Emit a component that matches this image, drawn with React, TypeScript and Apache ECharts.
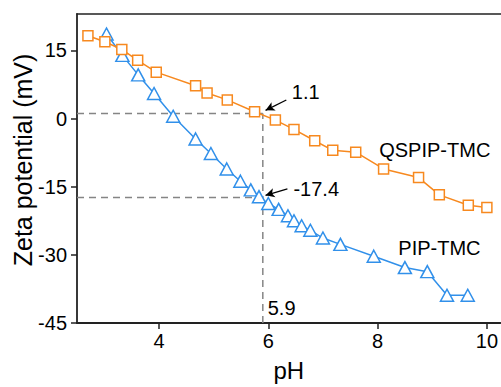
import React, { useEffect, useRef } from "react";
import * as echarts from "echarts";

const qspipPH = [2.7, 3.01, 3.32, 3.61, 3.95, 4.67, 4.88, 5.25, 5.75, 6.13, 6.47, 6.85, 7.18, 7.6, 8.11, 8.75, 9.13, 9.66, 10.0];
const qspipZeta = [18.2, 16.9, 15.2, 12.8, 10.2, 7.2, 5.6, 4.1, 1.5, -0.35, -2.4, -4.9, -7.0, -7.4, -11.1, -13.0, -16.8, -19.1, -19.6];

const pipPH = [3.04, 3.33, 3.62, 3.91, 4.26, 4.67, 4.95, 5.24, 5.49, 5.68, 5.83, 6.0, 6.19, 6.36, 6.47, 6.61, 6.77, 7.0, 7.32, 7.93, 8.5, 8.91, 9.27, 9.65];
const pipZeta = [18.6, 13.9, 9.6, 5.5, 0.5, -4.5, -7.7, -11.1, -13.8, -15.7, -17.2, -18.7, -20.0, -21.4, -22.5, -23.6, -24.6, -26.3, -27.7, -30.3, -32.8, -33.7, -38.9, -38.9];

const xTicks = [4, 6, 8, 10];
const yTicks = [-45, -30, -15, 0, 15];

const crossPH = 5.9;
const crossQSPIP = 1.1;
const crossPIP = -17.4;

const annoTexts = ["1.1", "-17.4", "QSPIP-TMC", "PIP-TMC", "5.9"];
const annoX = [6.43, 6.46, 8.03, 8.38, 5.99];
const annoY = [5.9, -15.5, -7.0, -28.6, -41.6];

const arrowFrom = [[6.33, 4.07], [6.35, -15.5]];
const arrowTo = [[5.95, 1.8], [5.95, -16.9]];

const X_MIN = 2.5;
const X_MAX = 10.25;
const Y_MIN = -45;
const Y_MAX = 23;

const FONT = "'Liberation Sans', Arial, sans-serif";
const ORANGE = "#f7891f";
const BLUE = "#3190ea";
const DASH = "#858585";

export default function App() {
  const ref = useRef<HTMLDivElement>(null);
  useEffect(() => {
    if (!ref.current) return;
    const chart = echarts.init(ref.current, undefined, { renderer: "svg" });
    const dashStyle = { color: DASH, width: 1.5, type: [7, 5] as any };
    chart.setOption({
      animation: false,
      backgroundColor: "#fff",
      grid: { left: 77, right: 0, top: 14, bottom: 55 },
      xAxis: [
        {
          type: "value",
          min: X_MIN,
          max: X_MAX,
          name: "pH",
          nameLocation: "middle",
          nameGap: 35,
          nameTextStyle: { fontSize: 24, color: "#000", fontFamily: FONT },
          axisLine: { show: true, onZero: false, lineStyle: { color: "#222", width: 1.8 } },
          axisTick: { show: true, length: 6, customValues: xTicks, lineStyle: { color: "#222", width: 1.5 } },
          axisLabel: { customValues: xTicks, fontSize: 20, color: "#000", fontFamily: FONT, margin: 8 },
          splitLine: { show: false },
        },
        {
          type: "value",
          position: "top",
          min: X_MIN,
          max: X_MAX,
          axisLine: { show: true, onZero: false, lineStyle: { color: "#222", width: 1.5 } },
          axisTick: { show: false },
          axisLabel: { show: false },
          splitLine: { show: false },
        },
      ],
      yAxis: {
        type: "value",
        min: Y_MIN,
        max: Y_MAX,
        axisLine: { show: true, onZero: false, lineStyle: { color: "#222", width: 1.8 } },
        axisTick: { show: true, length: 6, customValues: yTicks, lineStyle: { color: "#222", width: 1.5 } },
        axisLabel: { customValues: yTicks, fontSize: 20, color: "#000", fontFamily: FONT, margin: 10 },
        splitLine: { show: false },
      },
      graphic: [
        {
          type: "text",
          x: 23,
          y: 160,
          rotation: Math.PI / 2,
          style: {
            text: "Zeta potential (mV)",
            fontSize: 25,
            fontFamily: FONT,
            fill: "#000",
            align: "center",
            verticalAlign: "middle",
          },
        },
      ],
      series: [
        {
          type: "line",
          data: [[X_MIN, crossQSPIP], [crossPH, crossQSPIP]],
          symbol: "none",
          lineStyle: dashStyle,
          z: 1,
        },
        {
          type: "line",
          data: [[X_MIN, crossPIP], [crossPH, crossPIP]],
          symbol: "none",
          lineStyle: dashStyle,
          z: 1,
        },
        {
          type: "line",
          data: [[crossPH, Y_MIN], [crossPH, crossQSPIP]],
          symbol: "none",
          lineStyle: dashStyle,
          z: 1,
        },
        {
          type: "line",
          data: pipPH.map((x, i) => [x, pipZeta[i]]),
          symbol: "triangle",
          symbolSize: [13, 12],
          lineStyle: { color: BLUE, width: 1.5 },
          itemStyle: { color: "#fff", borderColor: BLUE, borderWidth: 1.5 },
          z: 3,
        },
        {
          type: "line",
          data: qspipPH.map((x, i) => [x, qspipZeta[i]]),
          symbol: "rect",
          symbolSize: 10,
          lineStyle: { color: ORANGE, width: 1.5 },
          itemStyle: { color: "#fff", borderColor: ORANGE, borderWidth: 1.5 },
          z: 4,
        },
        {
          type: "scatter",
          symbolSize: 0,
          data: annoTexts.map((t, i) => ({ value: [annoX[i], annoY[i]], name: t })),
          itemStyle: { opacity: 1 },
          label: {
            show: true,
            position: "right",
            distance: 0,
            formatter: (p: any) => p.name,
            fontSize: 20,
            color: "#000",
            opacity: 1,
            fontFamily: FONT,
          },
          silent: true,
          z: 5,
          markLine: {
            silent: true,
            symbol: ["none", "arrow"],
            symbolSize: [7, 9],
            label: { show: false },
            lineStyle: { color: "#000", width: 1.3, type: "solid", opacity: 1 },
            data: arrowFrom.map((f, i) => [{ coord: f }, { coord: arrowTo[i] }]),
          },
        },
      ],
    });
    return () => chart.dispose();
  }, []);
  return <div ref={ref} style={{ position: "fixed", left: 0, top: 0, width: 501, height: 387 }} />;
}
